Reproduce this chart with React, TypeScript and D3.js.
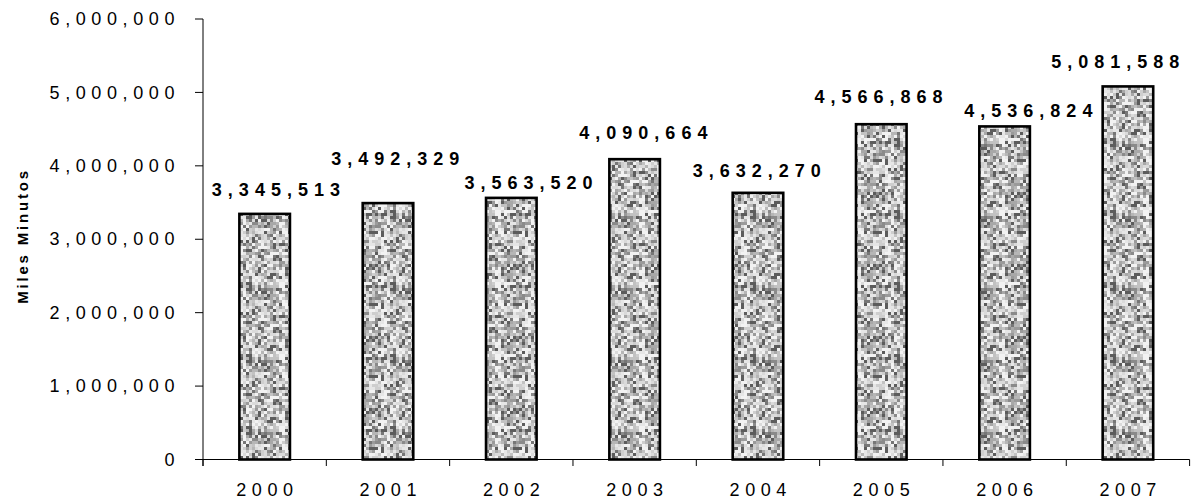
import React from "react";
import * as d3 from "d3";

const years = ["2000", "2001", "2002", "2003", "2004", "2005", "2006", "2007"];
const minutes = [3345513, 3492329, 3563520, 4090664, 3632270, 4566868, 4536824, 5081588];
const yTicks = [0, 1000000, 2000000, 3000000, 4000000, 5000000, 6000000];
const yTitle = "Miles Minutos";

// layout offsets of the value labels (relative to bar centre / bar top), as placed in the original
const labelDx = [-52, -56, -46, -54.5, -64.5, -66, -39.5, -76];
const labelDy = [-17.8, -37.7, -9.2, -20.3, -16.1, -21.3, -9.1, -18.6];

const W = 1203;
const H = 504;
const FONT = "Arial, 'Liberation Sans', Helvetica, sans-serif";

function hash(i: number, j: number) {
  let h = (i * 374761393 + j * 668265263) | 0;
  h = (h ^ (h >>> 13)) | 0;
  h = Math.imul(h, 1274126177);
  h = h ^ (h >>> 16);
  return ((h >>> 0) % 1000) / 1000;
}

const palette = ["#f2f2f2", "#e6e6e6", "#dadada", "#cecece", "#c2c2c2", "#b6b6b6", "#a8a8a8", "#9a9a9a", "#8a8a8a", "#767676", "#5c5c5c"];

function Pattern() {
  const cell = 3;
  const n = 24;
  const rects: React.ReactNode[] = [];
  for (let i = 0; i < n; i++) {
    for (let j = 0; j < n; j++) {
      const r = hash(i + 7, j + 13);
      const r2 = hash(j + 101, i + 57);
      let idx = Math.floor(Math.pow(r, 1.5) * palette.length * 0.999);
      if (r2 > 0.95) idx = palette.length - 1;
      rects.push(
        <rect key={i + "-" + j} x={i * cell} y={j * cell} width={cell} height={cell} fill={palette[idx]} />
      );
    }
  }
  return (
    <pattern id="noise" patternUnits="userSpaceOnUse" width={n * cell} height={n * cell}>
      {rects}
    </pattern>
  );
}

export default function App() {
  const x0 = 203;
  const x1 = 1189.6;
  const yBase = 459.5;
  const yTop = 19;

  const x = d3.scaleBand<string>().domain(years).range([x0, x1]).paddingInner(0).paddingOuter(0);
  const y = d3.scaleLinear().domain([0, 6000000]).range([yBase, yTop]);
  const fmt = d3.format(",");
  const barW = x.bandwidth() * 0.41;

  const bounds = [...years.map((yr) => x(yr) as number), x1];

  return (
    <svg width={W} height={H} style={{ position: "absolute", left: 0, top: 0, background: "#fff" }} fontFamily={FONT}>
      <defs>
        <Pattern />
      </defs>
      <rect x={0} y={0} width={W} height={H} fill="#fff" />

      {/* bars */}
      {years.map((yr, i) => {
        const cx = (x(yr) as number) + x.bandwidth() / 2;
        const top = y(minutes[i]);
        return (
          <rect
            key={yr}
            x={cx - barW / 2}
            y={top}
            width={barW}
            height={yBase - top}
            fill="url(#noise)"
            stroke="#000"
            strokeWidth={2.6}
          />
        );
      })}

      {/* y axis */}
      <line x1={x0} x2={x0} y1={yTop} y2={466} stroke="#000" strokeWidth={1} />
      {yTicks.map((t) => (
        <g key={t}>
          <line x1={195} x2={x0} y1={y(t)} y2={y(t)} stroke="#000" strokeWidth={1} />
          <text
            x={180}
            y={y(t) + 6.2}
            textAnchor="end"
            fontSize={18}
            letterSpacing={5.6}
            fill="#000"
          >
            {fmt(t)}
          </text>
        </g>
      ))}

      {/* x axis */}
      <line x1={195} x2={x1} y1={yBase} y2={yBase} stroke="#000" strokeWidth={1} />
      {bounds.map((b, i) => (
        <line key={i} x1={b} x2={b} y1={yBase} y2={466} stroke="#000" strokeWidth={1} />
      ))}
      {years.map((yr) => (
        <text
          key={yr}
          x={(x(yr) as number) + x.bandwidth() / 2 + 2.8}
          y={495.7}
          textAnchor="middle"
          fontSize={18}
          letterSpacing={5.6}
          fill="#000"
        >
          {yr}
        </text>
      ))}

      {/* value labels */}
      {years.map((yr, i) => {
        const cx = (x(yr) as number) + x.bandwidth() / 2;
        return (
          <text
            key={"v" + yr}
            x={cx + labelDx[i] - 0.8}
            y={y(minutes[i]) + labelDy[i]}
            textAnchor="start"
            fontSize={18}
            fontWeight="bold"
            letterSpacing={6}
            fill="#000"
          >
            {fmt(minutes[i])}
          </text>
        );
      })}

      {/* y title */}
      <text
        transform="translate(27.5, 236) rotate(-90)"
        textAnchor="middle"
        fontSize={15}
        fontWeight="bold"
        letterSpacing={2.8}
        fill="#000"
      >
        {yTitle}
      </text>
    </svg>
  );
}
